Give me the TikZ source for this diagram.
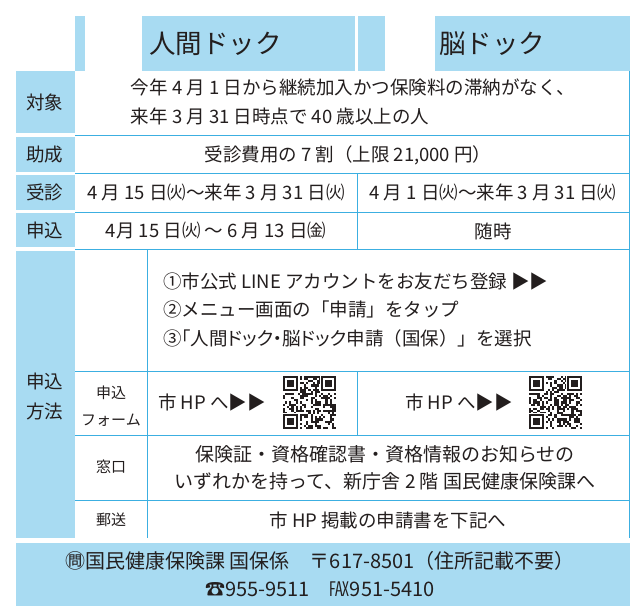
\documentclass[tikz,border=0pt]{standalone}
\usepackage{fontspec}
\setmainfont{Noto Sans CJK JP}
\newfontfamily\pfont[RawFeature=+palt]{Noto Sans CJK JP}
\definecolor{lb}{RGB}{168,219,242}
\definecolor{ln}{RGB}{60,175,225}
\definecolor{tx}{RGB}{35,30,30}
\newcommand{\myqr}[3]{%
  \begin{scope}[shift={(#1,#2)}]
    \pgfmathsetseed{#3}
    \foreach \i in {0,...,24}{\foreach \j in {0,...,24}{%
      \pgfmathtruncatemacro\qb{rnd>0.5?1:0}%
      \ifnum\qb=1 \fill[tx] (\i*2.12,\j*2.12) rectangle ++(2.12,2.12);\fi
    }}
    \foreach \a/\b in {0/0,18/0,0/18}{%
      \fill[white] (\a*2.12-1,\b*2.12-1) rectangle ++(8*2.12+1,8*2.12+1);
      \fill[tx] (\a*2.12,\b*2.12) rectangle ++(7*2.12,7*2.12);
      \fill[white] (\a*2.12+2.12,\b*2.12+2.12) rectangle ++(5*2.12,5*2.12);
      \fill[tx] (\a*2.12+4.24,\b*2.12+4.24) rectangle ++(3*2.12,3*2.12);
    }
  \end{scope}}
\begin{document}
\begin{tikzpicture}[x=1pt,y=-1pt,
  bluebox/.style={fill=lb,draw=none},
  rule/.style={draw=ln,line width=1pt},
  body/.style={font=\fontsize{18.5}{29}\selectfont,text=tx,inner sep=0pt},
  lab/.style={font=\fontsize{18.5}{30}\selectfont,text=tx,inner sep=0pt,align=center},
  sublab/.style={font=\fontsize{15}{27}\selectfont,text=tx,inner sep=0pt,align=center},
  head/.style={font=\fontsize{26.5}{30}\selectfont,text=tx,inner sep=0pt,anchor=west}]
\useasboundingbox (0,0) rectangle (633,608);
\fill[white] (0,0) rectangle (633,608);
% header
\fill[bluebox] (75,16) rectangle (85,71);
\fill[bluebox] (142,16) rectangle (355,71);
\fill[bluebox] (358,16) rectangle (385,71);
\fill[bluebox] (435,16) rectangle (630,71);
\node[head] (h1) at (149,44) {人間ドック};
\node[head] (h2) at (439,44) {脳ドック};
% left labels
\fill[bluebox] (16,71) rectangle (75,133);
\fill[bluebox] (16,137) rectangle (75,172);
\fill[bluebox] (16,175) rectangle (75,210);
\fill[bluebox] (16,213) rectangle (75,247);
\fill[bluebox] (16,251) rectangle (75,538);
\node[lab] (l1) at (45,102) {対象};
\node[lab] (l2) at (45,155) {助成};
\node[lab] (l3) at (45,192) {受診};
\node[lab] (l4) at (45,230) {申込};
\node[lab] (l5) at (45,397) {申込\\方法};
% rules
\draw[rule] (75,135) -- (630,135);
\draw[rule] (75,173.5) -- (630,173.5);
\draw[rule] (75,212) -- (630,212);
\draw[rule] (75,249.5) -- (630,249.5);
\draw[rule] (75,371) -- (630,371);
\draw[rule] (75,435) -- (630,435);
\draw[rule] (75,500) -- (630,500);
\draw[rule] (629.5,71) -- (629.5,538);
\draw[rule] (357,173.5) -- (357,249.5);
\draw[rule] (357,371) -- (357,435);
\draw[rule] (147,249.5) -- (147,538);
% contents
\node[body,align=left] (c1) at (353,102) {今年 4 月 1 日から継続加入かつ保険料の滞納がなく、\\来年 3 月 31 日時点で 40 歳以上の人};
\node[body] (c2) at (348,155) {受診費用の 7 割（上限 21,000 円）};
\node[body] (c3a) at (216,192) {4 月 15 日㈫～来年 3 月 31 日㈫};
\node[body] (c3b) at (493,192) {4 月 1 日㈫～来年 3 月 31 日㈫};
\node[body] (c4a) at (216,231) {4月 15 日㈫ ～ 6 月 13 日㈮};
\node[body] (c4b) at (493,231) {随時};
\node[body,align=left,anchor=west,font=\fontsize{18.5}{28.5}\selectfont] (c5) at (163,310) {{\pfont ①市公式 LINE }アカウントをお友だち登録{\pfont \ ▶▶}\\②メニュー画面の「申請」をタップ\\{\pfont ③「人間ドック・脳ドック申請}（国保）」を選択};
\node[sublab] (s1) at (111,406) {申込\\フォーム};
\node[body,anchor=west] (f1) at (158,403) {市 HP へ▶▶};
\node[body,anchor=west] (f2) at (405,403) {市 HP へ▶▶};
\myqr{283}{376}{11}
\myqr{529}{376}{23}
\node[sublab] (s2) at (111,467) {窓口};
\node[body,align=center,font=\fontsize{19}{27}\selectfont] (w1) at (385,468) {保険証・資格確認書・資格情報のお知らせの\\いずれかを持って、新庁舎 2 階 国民健康保険課へ};
\node[sublab] (s3) at (111,520) {郵送};
\node[body] (p1) at (388,520) {市 HP 掲載の申請書を下記へ};
% footer
\fill[bluebox] (16,543) rectangle (630,606);
\node[body,align=center,font=\fontsize{20}{28}\selectfont] (ft) at (320,574) {㉄国民健康保険課 国保係　〒617-8501（住所記載不要）\\☎955-9511　℻951-5410};
\end{tikzpicture}
\end{document}
